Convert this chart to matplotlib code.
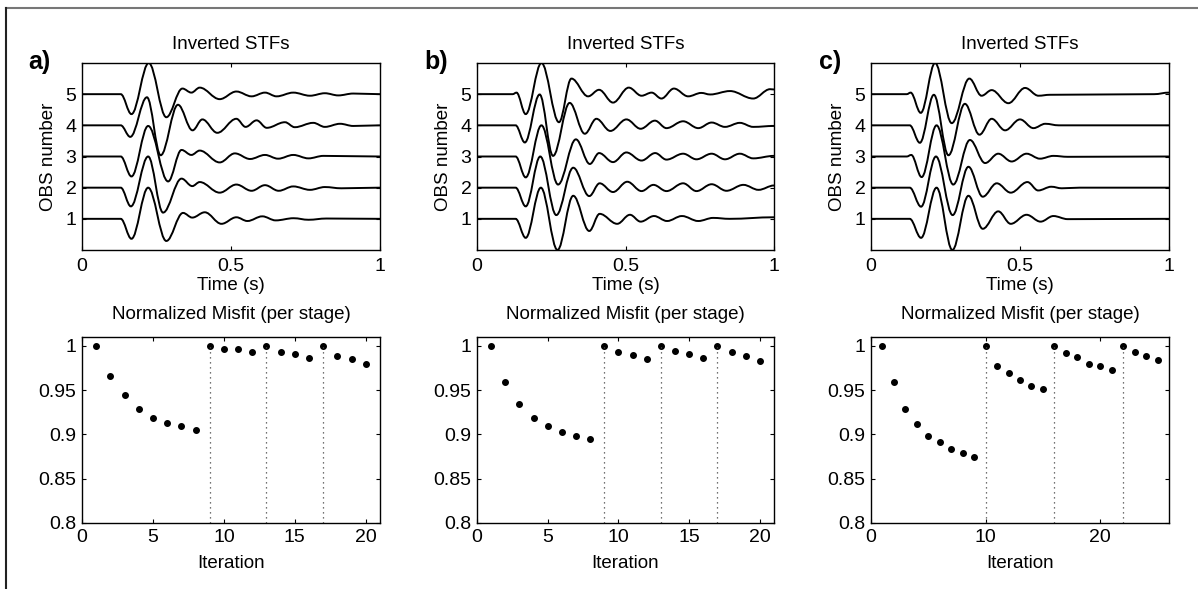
import numpy as np
import matplotlib.pyplot as plt
from matplotlib.path import Path
from matplotlib.patches import PathPatch
from matplotlib.lines import Line2D

plt.rcParams['font.family'] = ['Liberation Sans', 'DejaVu Sans']

# ---- Inverted STFs: extrema (time s, amplitude), OBS 1..5 ----
stf_a_t = [
    [0, 0.13, 0.166, 0.222, 0.283, 0.339, 0.37, 0.412, 0.468, 0.518, 0.555, 0.605, 0.65, 0.71, 0.76, 0.82, 1.0],
    [0, 0.13, 0.164, 0.222, 0.272, 0.334, 0.37, 0.395, 0.462, 0.518, 0.569, 0.614, 0.66, 0.709, 0.765, 0.815, 0.87, 1.0],
    [0, 0.13, 0.166, 0.222, 0.289, 0.334, 0.367, 0.395, 0.462, 0.513, 0.564, 0.614, 0.658, 0.709, 0.76, 0.81, 1.0],
    [0, 0.13, 0.162, 0.218, 0.264, 0.322, 0.371, 0.404, 0.454, 0.518, 0.549, 0.586, 0.62, 0.681, 0.714, 0.776, 0.815, 0.866, 0.91, 1.0],
    [0, 0.13, 0.166, 0.224, 0.283, 0.337, 0.367, 0.395, 0.462, 0.518, 0.569, 0.614, 0.653, 0.709, 0.765, 0.815, 0.86, 0.91, 1.0],
]
stf_a_y = [
    [0, 0, -0.64, 1.0, -0.71, 0.19, 0.04, 0.21, -0.16, 0.05, -0.07, 0.08, -0.05, 0.02, -0.03, 0.01, 0],
    [0, 0, -0.6, 1.0, -0.8, 0.29, 0.05, 0.18, -0.16, 0.1, -0.1, 0.08, -0.1, 0.04, -0.07, 0.02, -0.02, 0],
    [0, 0, -0.64, 0.98, -0.8, 0.21, 0.05, 0.19, -0.19, 0.1, -0.08, 0.05, -0.07, 0.05, -0.06, 0.02, 0],
    [0, 0, -0.37, 0.9, -0.96, 0.66, -0.16, 0.19, -0.24, 0.21, -0.05, 0.16, -0.08, 0.1, -0.06, 0.08, -0.05, 0.05, -0.02, 0],
    [0, 0, -0.64, 1.0, -0.74, 0.18, 0.05, 0.21, -0.16, 0.085, -0.07, 0.05, -0.07, 0.05, -0.05, 0.03, -0.04, 0.02, 0],
]

stf_b_t = [
    [0, 0.13, 0.164, 0.215, 0.271, 0.324, 0.378, 0.413, 0.472, 0.515, 0.551, 0.596, 0.64, 0.69, 0.745, 0.795, 0.85, 1.0],
    [0, 0.13, 0.164, 0.213, 0.267, 0.324, 0.378, 0.413, 0.458, 0.506, 0.554, 0.594, 0.638, 0.694, 0.739, 0.79, 0.84, 0.897, 0.948, 1.0],
    [0, 0.13, 0.164, 0.217, 0.273, 0.333, 0.38, 0.411, 0.458, 0.503, 0.554, 0.6, 0.638, 0.694, 0.739, 0.79, 0.835, 0.885, 0.93, 1.0],
    [0, 0.13, 0.161, 0.211, 0.256, 0.312, 0.363, 0.402, 0.449, 0.503, 0.551, 0.599, 0.638, 0.694, 0.745, 0.79, 0.835, 0.885, 0.93, 1.0],
    [0, 0.12, 0.133, 0.164, 0.217, 0.276, 0.318, 0.374, 0.411, 0.458, 0.511, 0.554, 0.588, 0.621, 0.663, 0.711, 0.755, 0.785, 0.852, 0.93, 0.987, 1.0],
]
stf_b_y = [
    [0, 0, -0.61, 1.0, -1.0, 0.74, -0.39, 0.16, -0.16, 0.13, -0.09, 0.09, -0.07, 0.09, -0.07, 0.03, 0.0, 0.05],
    [0, 0, -0.6, 1.0, -0.88, 0.64, -0.27, 0.14, -0.14, 0.19, -0.11, 0.09, -0.11, 0.14, -0.11, 0.11, -0.1, 0.09, -0.07, 0.07],
    [0, 0, -0.67, 1.0, -0.9, 0.55, -0.24, 0.11, -0.18, 0.13, -0.13, 0.11, -0.1, 0.09, -0.09, 0.09, -0.09, 0.09, -0.06, 0.02],
    [0, 0, -0.55, 0.99, -0.98, 0.72, -0.27, 0.21, -0.18, 0.19, -0.11, 0.15, -0.09, 0.13, -0.09, 0.09, -0.05, 0.08, -0.05, -0.02],
    [0, 0, 0.05, -0.64, 1.0, -0.9, 0.5, -0.07, 0.14, -0.27, 0.21, -0.05, 0.05, -0.14, 0.18, -0.07, 0.04, -0.01, 0.1, -0.14, 0.16, 0.15],
]

stf_c_t = [
    [0, 0.13, 0.168, 0.22, 0.273, 0.327, 0.375, 0.427, 0.469, 0.522, 0.569, 0.612, 0.66, 1.0],
    [0, 0.13, 0.168, 0.218, 0.274, 0.327, 0.375, 0.422, 0.469, 0.525, 0.561, 0.605, 0.64, 0.7, 1.0],
    [0, 0.12, 0.135, 0.17, 0.22, 0.276, 0.332, 0.383, 0.427, 0.472, 0.522, 0.567, 0.612, 0.66, 1.0],
    [0, 0.13, 0.164, 0.211, 0.26, 0.315, 0.364, 0.405, 0.45, 0.5, 0.545, 0.585, 0.63, 1.0],
    [0, 0.12, 0.133, 0.167, 0.215, 0.271, 0.33, 0.371, 0.405, 0.461, 0.517, 0.562, 0.6, 0.95, 1.0],
]
stf_c_y = [
    [0, 0, -0.61, 1.0, -1.0, 0.74, -0.32, 0.24, -0.16, 0.13, -0.09, 0.09, -0.01, 0],
    [0, 0, -0.61, 1.0, -0.88, 0.67, -0.29, 0.14, -0.16, 0.18, -0.09, 0.03, -0.02, 0, 0],
    [0, 0, 0.05, -0.66, 1.0, -0.9, 0.53, -0.21, 0.09, -0.16, 0.09, -0.07, 0.02, -0.01, 0],
    [0, 0, -0.56, 0.98, -0.96, 0.69, -0.3, 0.21, -0.16, 0.19, -0.09, 0.05, 0, 0],
    [0, 0, 0.05, -0.6, 1.0, -0.93, 0.5, -0.05, 0.13, -0.29, 0.2, -0.05, -0.02, 0, 0.05],
]

# ---- Normalized misfit per iteration ----
misfit_a = [1.0, 0.966, 0.944, 0.929, 0.919, 0.913, 0.909, 0.905,
            1.0, 0.997, 0.996, 0.993, 1.0, 0.993, 0.991, 0.986,
            1.0, 0.988, 0.985, 0.979]
misfit_b = [1.0, 0.959, 0.934, 0.919, 0.909, 0.903, 0.898, 0.895,
            1.0, 0.993, 0.990, 0.985, 1.0, 0.994, 0.991, 0.986,
            1.0, 0.993, 0.989, 0.983]
misfit_c = [1.0, 0.959, 0.929, 0.912, 0.898, 0.891, 0.884, 0.879, 0.875,
            1.0, 0.977, 0.969, 0.961, 0.955, 0.951,
            1.0, 0.992, 0.987, 0.980, 0.977, 0.973,
            1.0, 0.993, 0.989, 0.984]
stage_a = [9, 13, 17]
stage_b = [9, 13, 17]
stage_c = [10, 16, 22]
iter_max = [21, 21, 26]
iter_ticks = [[0, 5, 10, 15, 20], [0, 5, 10, 15, 20], [0, 10, 20]]
panel_labels = ['a)', 'b)', 'c)']

W, H = 1198, 589
fig = plt.figure(figsize=(W / 100, H / 100), dpi=100)


def ax_at(x0, y0, x1, y1):
    return fig.add_axes([x0 / W, 1 - y1 / H, (x1 - x0) / W, (y1 - y0) / H])


def smooth_trace(ax, t, y, base):
    # cubic segments with flat tangents at every extremum
    verts = [(t[0], base + y[0])]
    codes = [Path.MOVETO]
    for i in range(len(t) - 1):
        d = (t[i + 1] - t[i]) * 0.364
        verts += [(t[i] + d, base + y[i]), (t[i + 1] - d, base + y[i + 1]), (t[i + 1], base + y[i + 1])]
        codes += [Path.CURVE4] * 3
    ax.add_patch(PathPatch(Path(verts, codes), fill=False, edgecolor='k', lw=1.4))


def style(ax):
    ax.tick_params(direction='in', top=True, right=True, length=3, width=0.8,
                   labelsize=14, pad=4)
    for s in ax.spines.values():
        s.set_linewidth(1.0)


lefts = [(82, 380), (477, 774), (871, 1169)]
label_x = [-0.107, -0.098, -0.1]
stf_t = [stf_a_t, stf_b_t, stf_c_t]
stf_y = [stf_a_y, stf_b_y, stf_c_y]
misfits = [misfit_a, misfit_b, misfit_c]
stages = [stage_a, stage_b, stage_c]

for k in range(3):
    x0, x1 = lefts[k]
    ax = ax_at(x0, 63, x1, 250)
    for i in range(5):
        smooth_trace(ax, stf_t[k][i], stf_y[k][i], i + 1)
    ax.set_xlim(0, 1)
    ax.set_ylim(0, 6)
    ax.set_xticks([0, 0.5, 1])
    ax.set_xticklabels(['0', '0.5', '1'])
    ax.set_yticks([1, 2, 3, 4, 5])
    style(ax)
    ax.tick_params(axis='x', pad=6)
    ax.set_title('Inverted STFs', fontsize=13.5, pad=10)
    ax.set_xlabel('Time (s)', fontsize=13.5, labelpad=1)
    ax.set_ylabel('OBS number', fontsize=13.5, labelpad=6)
    ax.text(label_x[k], 1.005, panel_labels[k], transform=ax.transAxes, fontsize=18,
            fontweight='bold', ha='right', va='center')

    ax2 = ax_at(x0, 337, x1, 523)
    m = misfits[k]
    ax2.plot(range(1, len(m) + 1), m, 'o', color='k', ms=4)
    ax2.vlines(stages[k], 0.8, 1.0, colors='#444444', linestyles=(0, (1, 3)), lw=0.9)
    ax2.set_xlim(0, iter_max[k])
    ax2.set_ylim(0.8, 1.01)
    ax2.set_xticks(iter_ticks[k])
    ax2.set_yticks([0.8, 0.85, 0.9, 0.95, 1])
    ax2.set_yticklabels(['0.8', '0.85', '0.9', '0.95', '1'])
    style(ax2)
    ax2.tick_params(axis='x', pad=4)
    ax2.set_title('Normalized Misfit (per stage)', fontsize=13.5, pad=13)
    ax2.set_xlabel('Iteration', fontsize=13.5, labelpad=7)

# outer frame lines at the top and left edge
fig.add_artist(Line2D([6 / W, 1], [1 - 8 / H, 1 - 8 / H], color='#777777', lw=1.5))
fig.add_artist(Line2D([6 / W, 6 / W], [0, 1 - 8 / H], color='#222222', lw=1.5))

fig.savefig('out.png', dpi=100)
